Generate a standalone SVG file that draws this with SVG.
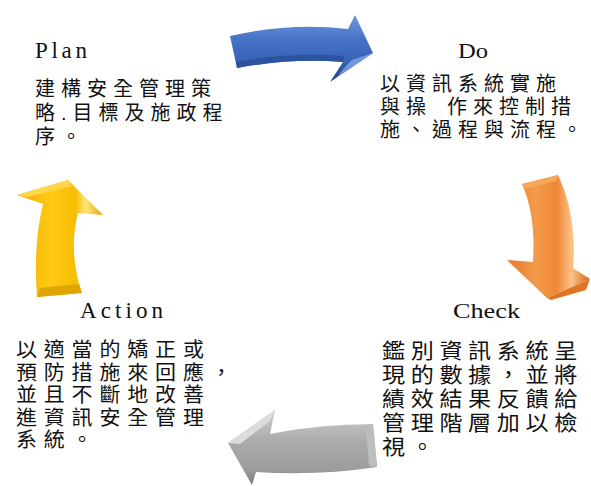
<svg xmlns="http://www.w3.org/2000/svg" width="591" height="486" viewBox="0 0 591 486">
<defs>
<style>
.lbl{font-family:"Liberation Serif","DejaVu Serif",serif;fill:#111;}
.cjk{font-family:"Liberation Sans","Noto Sans CJK TC","Noto Sans CJK SC",sans-serif;fill:#111;font-weight:400;}
.p20{font-size:20px;letter-spacing:6px;}
.pa{font-size:20px;letter-spacing:6.5px;}
.pc{font-size:21px;letter-spacing:5.1px;}
</style>
<linearGradient id="gBlue" x1="0" y1="0" x2="0" y2="1">
<stop offset="0" stop-color="#6f98de"/>
<stop offset="0.35" stop-color="#4774c8"/>
<stop offset="0.7" stop-color="#3562b6"/>
<stop offset="1" stop-color="#1e3d7e"/>
</linearGradient>
<linearGradient id="gOrange" x1="0" y1="0" x2="1" y2="0">
<stop offset="0" stop-color="#e8782a"/>
<stop offset="0.35" stop-color="#f49a4a"/>
<stop offset="0.6" stop-color="#ee8836"/>
<stop offset="0.78" stop-color="#ffc287"/>
<stop offset="1" stop-color="#cf661c"/>
</linearGradient>
<linearGradient id="gGray" x1="0" y1="0" x2="0" y2="1">
<stop offset="0" stop-color="#cfcfcf"/>
<stop offset="0.4" stop-color="#acacac"/>
<stop offset="0.8" stop-color="#9c9c9c"/>
<stop offset="1" stop-color="#7a7a7a"/>
</linearGradient>
<linearGradient id="gYellow" x1="0" y1="0" x2="1" y2="0">
<stop offset="0" stop-color="#efb000"/>
<stop offset="0.4" stop-color="#ffc916"/>
<stop offset="0.68" stop-color="#f6be00"/>
<stop offset="0.8" stop-color="#ffe67a"/>
<stop offset="1" stop-color="#e2a400"/>
</linearGradient>
</defs>
<rect width="591" height="486" fill="#ffffff"/>

<g id="connectors">
<g id="arrow-plan-do">
<path d="M230,36 Q290,22 348,29 L355,15 L373,53 L330,82 L343,62 Q290,58 237,68 Z" fill="url(#gBlue)"/>
<path d="M236,62 Q290,52 344,56 L343,62 Q290,58 237,68 Z" fill="#2a4f98" opacity="0.8"/>
<path d="M373,53 L352,60 Q345,66 338,76 L330,82 Z" fill="#8fb0e8" opacity="0.7"/>
</g>
<g id="arrow-do-check">
<path d="M522,184 L558,175 Q577,215 573,268 L590,279 L547,298 L507,260 L533,262 Q536,215 522,184 Z" fill="url(#gOrange)"/>
<path d="M547,298 L590,279 L586,290 L551,300 Z" fill="#e07424"/>
<path d="M522,184 L558,175 L556,181 L526,189 Z" fill="#f7a65a"/>
</g>
<g id="arrow-check-action">
<path d="M373,424 Q320,424 270,434 L275,410 L228,443 L252,485 L256,472 Q318,476 377,467 Z" fill="url(#gGray)"/>
<path d="M373,424 L377,467 L369,466 L366,428 Z" fill="#bdbdbd"/>
<path d="M228,443 L275,410 L270,421 L240,444 Z" fill="#dcdcdc"/>
</g>
<g id="arrow-action-plan">
<path d="M37,297 Q33,245 43,204 L17,195 L68,180 L103,215 L78,213 Q68,252 82,293 Z" fill="url(#gYellow)"/>
<path d="M37,297 L82,293 L79,284 L40,288 Z" fill="#e0a400"/>
<path d="M17,195 L68,180 L72,186 L28,197 Z" fill="#ffd54a"/>
</g>
</g>

<g id="plan">
<text class="lbl" x="35" y="58" font-size="23" textLength="52" lengthAdjust="spacing">Plan</text>
<text class="cjk p20"><tspan x="35" y="96">建構安全管理策</tspan><tspan x="35" y="120">略.目標及施政程</tspan><tspan x="35" y="144">序。</tspan></text>
</g>

<g id="do">
<text class="lbl" x="458" y="58" font-size="20" textLength="30" lengthAdjust="spacingAndGlyphs">Do</text>
<text class="cjk p20"><tspan x="380" y="91">以資訊系統實施</tspan><tspan x="380" y="114">與操</tspan><tspan x="447" y="114">作來控制措</tspan><tspan x="380" y="137">施、過程與流程。</tspan></text>
</g>

<g id="check">
<text class="lbl" x="453" y="318" font-size="20" textLength="67" lengthAdjust="spacingAndGlyphs">Check</text>
<g transform="translate(382,0) scale(1.1,1) translate(-382,0)">
<text class="cjk pc"><tspan x="382" y="358">鑑別資訊系統呈</tspan><tspan x="382" y="382">現的數據，並將</tspan><tspan x="382" y="406">績效結果反饋給</tspan><tspan x="382" y="430">管理階層加以檢</tspan><tspan x="382" y="454">視。</tspan></text>
</g>
</g>

<g id="action">
<text class="lbl" x="80" y="318" font-size="23" textLength="83" lengthAdjust="spacing">Action</text>
<g transform="translate(16,0) scale(1.05,1) translate(-16,0)">
<text class="cjk pa"><tspan x="16" y="357">以適當的矯正或</tspan><tspan x="16" y="380">預防措施來回應，</tspan><tspan x="16" y="402">並且不斷地改善</tspan><tspan x="16" y="425">進資訊安全管理</tspan><tspan x="16" y="447">系統。</tspan></text>
</g>
</g>
</svg>
